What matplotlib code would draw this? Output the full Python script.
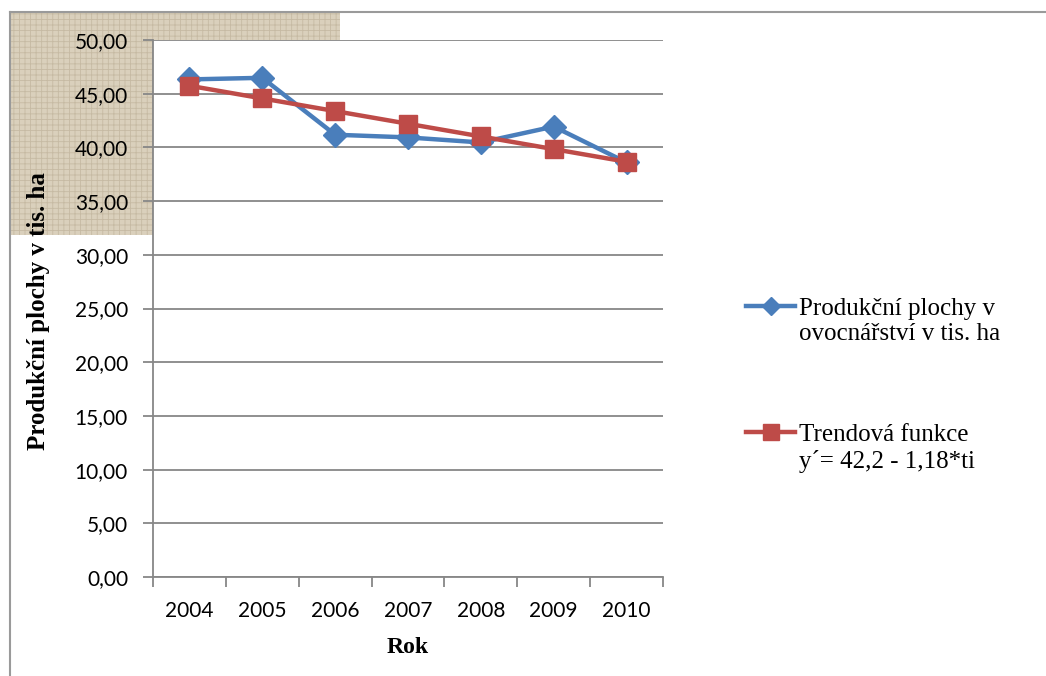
import matplotlib
matplotlib.use('Agg')
import matplotlib.pyplot as plt
from matplotlib.lines import Line2D
from matplotlib.patches import Rectangle

roky = ['2004', '2005', '2006', '2007', '2008', '2009', '2010']
plochy = [46.33, 46.48, 41.18, 40.93, 40.46, 41.94, 38.60]
trend = [45.74, 44.56, 43.38, 42.20, 41.02, 39.84, 38.66]
y_ticks = [0, 5, 10, 15, 20, 25, 30, 35, 40, 45, 50]

BLUE = '#4a7ebb'
RED = '#be4b48'
GRID = '#878787'
tick_font = 'Lato'
serif = 'Liberation Serif'

plt.rcParams['hatch.linewidth'] = 0.6

fig = plt.figure(figsize=(10.46, 6.76), dpi=100)
W, H = 1046, 676

# textured patch top-left + outer frame
fig.add_artist(Rectangle((10 / W, 1 - 235 / H), 330 / W, 222 / H,
                         transform=fig.transFigure, facecolor='#dad0bc',
                         edgecolor='#c6baa3', lw=0, hatch='+++', zorder=-2))
fig.add_artist(Line2D([10 / W, 10 / W], [0, 1 - 12 / H], color='#9a9a9a', lw=1.5,
                      transform=fig.transFigure))
fig.add_artist(Line2D([10 / W, 1], [1 - 12 / H, 1 - 12 / H], color='#9a9a9a', lw=1.5,
                      transform=fig.transFigure))

ax = fig.add_axes([153 / W, 1 - 577 / H, 510 / W, 537 / H])
ax.set_facecolor('white')
x = range(len(roky))

ax.plot(x, plochy, color=BLUE, lw=3.2, marker='D', ms=12, zorder=3)
ax.plot(x, trend, color=RED, lw=3.2, marker='s', ms=12.5, zorder=4)

ax.set_ylim(0, 50)
ax.set_xlim(-0.5, len(roky) - 0.5)
ax.set_yticks(y_ticks)
ax.set_yticklabels([f'{v:.2f}'.replace('.', ',') for v in y_ticks],
                   fontfamily=tick_font, fontsize=15)
ax.yaxis.grid(True, color=GRID, lw=1.3)
ax.set_axisbelow(True)

ax.set_xticks([i + 0.5 for i in range(-1, len(roky))])
ax.set_xticklabels([])
ax.set_xticks(list(x), minor=True)
ax.set_xticklabels(roky, minor=True, fontfamily=tick_font, fontsize=15)
ax.tick_params(axis='x', which='major', length=7, color=GRID, width=1.3)
ax.tick_params(axis='x', which='minor', length=0, pad=17)
ax.tick_params(axis='y', length=7, color=GRID, width=1.3, pad=11)

for s in ['top', 'right']:
    ax.spines[s].set_visible(False)
for s in ['left', 'bottom']:
    ax.spines[s].set_color(GRID)
    ax.spines[s].set_linewidth(1.3)

ax.set_xlabel('Rok', fontfamily=serif, fontweight='bold', fontsize=17, labelpad=12)
fig.text(38 / W, 1 - 311 / H, 'Produkční plochy v tis. ha', rotation=90,
         ha='center', va='center', fontfamily=serif, fontweight='bold', fontsize=18)

# legend
for y0, col, mk, ms, lines in [
        (306, BLUE, 'D', 9, 'Produkční plochy v\novocnářství v tis. ha'),
        (432, RED, 's', 12, 'Trendová funkce\ny´= 42,2 - 1,18*ti')]:
    fig.add_artist(Line2D([746 / W, 795 / W], [1 - y0 / H] * 2, color=col, lw=3.2,
                          transform=fig.transFigure))
    fig.add_artist(Line2D([771 / W], [1 - y0 / H], color=col, marker=mk, ms=ms,
                          transform=fig.transFigure))
    fig.text(799 / W, 1 - (y0 - 8) / H, lines, ha='left', va='top',
             fontfamily=serif, fontsize=18, linespacing=1.2)

fig.savefig('out.png', dpi=100)
